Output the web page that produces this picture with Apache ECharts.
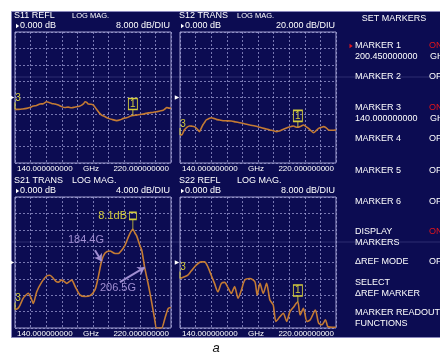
<!DOCTYPE html>
<html>
<head>
<meta charset="utf-8">
<script src="https://cdn.jsdelivr.net/npm/echarts@6/dist/echarts.min.js"></script>
<style>
  html, body { margin: 0; padding: 0; background: #ffffff; }
  #chart { width: 440px; height: 356px; }
</style>
</head>
<body>
<div id="chart"></div>
<script>
// Sweep range (GHz) and marker frequencies
const sweepStart = 140;
const sweepStop = 220;
const marker1Freq = 200.45;
const marker3Freq = 140;

// S11 reflection, dB
const s11Freq = [140, 142, 144, 146, 147.5, 149.4, 151, 152.8, 154.5, 156.2, 157.5, 158.8, 160.5, 162.2, 163.8, 165.6, 167.3, 169, 170.3, 171.6, 173, 174.2, 175.2, 176, 176.8, 177.6, 179, 180.2, 181.9, 183.2, 184.4, 186, 187.9, 190, 192.1, 194, 195.6, 197.5, 199, 200.45, 202.3, 204.1, 206.3, 208.4, 210.5, 212.6, 214.3, 216, 217, 217.8, 219, 220];
const s11Db = [-5.8, -5.8, -5.6, -5.3, -4.9, -4.2, -3.9, -3.2, -3.0, -2.1, -2.4, -2.9, -3.2, -3.7, -4.4, -4.9, -4.7, -5.0, -4.8, -4.5, -4.3, -3.7, -3.0, -2.1, -2.4, -3.2, -3.3, -3.7, -5.9, -7.5, -8.6, -9.3, -10.2, -10.8, -11.3, -10.9, -10.2, -9.8, -9.2, -8.8, -8.6, -8.3, -8.0, -7.5, -7.3, -7.0, -6.6, -6.2, -5.5, -4.9, -5.2, -5.3];

// S12 transmission, dB
const s12Freq = [140, 141, 142.2, 143.5, 144.8, 146, 147.4, 148.8, 150, 150.8, 151.7, 152.6, 153.4, 154.6, 156, 157.3, 158.6, 160.3, 162, 164, 166.3, 168.5, 170.6, 173, 175.8, 178.5, 181, 183.5, 186.1, 187.8, 189.5, 190.8, 192.1, 194, 195.6, 197, 198.1, 199.3, 200.45, 202, 203.3, 204.6, 205.9, 207.2, 208.5, 209.8, 211.1, 212.4, 213.6, 215, 216.2, 218, 220];
const s12Db = [-45.7, -45.5, -39.7, -36.5, -34.8, -35.0, -35.6, -38.5, -41.7, -38.0, -33.6, -30.5, -27.5, -26.0, -24.7, -25.5, -26.7, -27.5, -28.3, -28.5, -28.7, -29.8, -30.8, -32.0, -33.6, -34.8, -36.4, -38.0, -39.7, -40.5, -41.7, -41.0, -39.7, -38.0, -36.4, -35.5, -34.8, -36.0, -36.4, -35.0, -33.6, -35.5, -37.7, -40.5, -42.9, -40.5, -37.7, -36.5, -35.6, -37.0, -39.7, -40.0, -39.7];

// S21 transmission (gain), dB
const s21Freq = [140, 141.5, 142.6, 144, 145.1, 146.8, 148.5, 149.4, 151.1, 153.7, 156.2, 157.9, 159.7, 161, 162.2, 163.9, 165.2, 166.5, 168, 169.1, 170.8, 173.3, 175.9, 178.5, 181, 182.5, 184.4, 186.2, 188.7, 191.3, 193, 194.7, 196.4, 198.1, 199.3, 200.45, 201.5, 202.4, 204, 205, 206.5, 208.4, 210, 211.5, 212.6, 214, 215.2, 216.9, 218.6, 220];
const s21Db = [-11.5, -11.2, -10.4, -8.9, -8.2, -7.5, -9.0, -10.0, -7.2, -4.8, -3.3, -3.1, -3.9, -4.6, -4.8, -4.3, -4.6, -5.1, -4.6, -4.3, -5.8, -7.9, -8.3, -8.1, -6.7, -4.0, 0.3, 2.3, 2.8, 2.2, 2.2, 3.0, 4.2, 6.2, 7.4, 8.1, 7.2, 6.5, 4.2, 3.0, -1.2, -5.5, -9.5, -13.5, -16, -16, -16, -13.6, -11.2, -11.0];

// S22 reflection, dB
const s22Freq = [140, 142.2, 144, 145.7, 148.3, 150.8, 152.6, 154.3, 156, 157.7, 159.4, 161.2, 162.9, 164.6, 166.3, 168, 169.8, 171.5, 173.2, 175.8, 178.4, 179.6, 181, 182.7, 184.4, 186.1, 187.8, 189.2, 191.3, 193, 194.7, 196.4, 198.5, 199.5, 200.45, 201.6, 203.3, 205.1, 206.8, 209.4, 211.1, 212.8, 214.6, 215.8, 218, 220];
const s22Db = [-7.8, -7.0, -6.2, -4.2, -1.3, 0.3, 0.3, -2.1, -6.2, -10.2, -14.3, -10.2, -9.7, -12.3, -15.1, -11.8, -17.5, -13.4, -8.6, -7.8, -9.4, -15.9, -10.2, -15.1, -10.2, -18.3, -20.7, -28.8, -26.4, -24.8, -28.8, -24.0, -21.5, -20.0, -19.3, -25.6, -22.4, -28.8, -28.0, -23.2, -29.6, -30.4, -28.0, -31.3, -31.6, -31.6];

// Panel headings and scale (dB per division)
const panelNames = ['S11 REFL', 'S12 TRANS', 'S21 TRANS', 'S22 REFL'];
const panelFormat = 'LOG MAG.';
const refLevels = [0, 0, 0, 0];
const dbPerDiv = [8, 20, 4, 8];
const traceFreqs = [s11Freq, s12Freq, s21Freq, s22Freq];
const traceDbs = [s11Db, s12Db, s21Db, s22Db];

// Band-edge annotations on S21 (GHz)
const bandEdges = [184.4, 206.5];

// Softkey menu
const menuTitle = 'SET MARKERS';
const menuItems = [
  { lines: ['MARKER 1', marker1Freq.toFixed(9)], state: 'ON', unit: 'GHz', selected: true },
  { lines: ['MARKER 2'], state: 'OFF' },
  { lines: ['MARKER 3', marker3Freq.toFixed(9)], state: 'ON', unit: 'GHz' },
  { lines: ['MARKER 4'], state: 'OFF' },
  { lines: ['MARKER 5'], state: 'OFF' },
  { lines: ['MARKER 6'], state: 'OFF' },
  { lines: ['DISPLAY', 'MARKERS'], state: 'ON' },
  { lines: ['\u0394REF MODE'], state: 'OFF' },
  { lines: ['SELECT', '\u0394REF MARKER'] },
  { lines: ['MARKER READOUT', 'FUNCTIONS'] }
];
const figureTag = 'a';

// ---- styling / layout ----
const NAVY = '#0c0c52';
const TRACE = '#c47b34';
const MARK = '#d4cc3c';
const LAV = '#a08ed2';
const RED = '#e4141a';
const FONT = '"Liberation Sans", Arial, Helvetica, sans-serif';
const gridPos = [
  { left: 15, top: 32 }, { left: 180, top: 32 },
  { left: 15, top: 197 }, { left: 180, top: 197 }
];
const GW = 156, GH = 131;
const menuY = [46, 77, 108, 139, 171, 202, 232, 262, 283, 313];
const menuLineGap = 11;

const chart = echarts.init(document.getElementById('chart'), null, { renderer: 'canvas', width: 440, height: 356 });

function txt(x, y, s, o) {
  o = o || {};
  const align = o.align || 'left';
  return {
    type: 'text', x: x, y: y, z: 50, silent: true,
    style: {
      text: s, fill: o.fill || '#ffffff',
      font: (o.italic ? 'italic ' : '') + (o.size || 9) + 'px ' + FONT,
      align: align, textAlign: align, verticalAlign: 'middle', textVerticalAlign: 'middle'
    }
  };
}
function tri(x, y, color) {
  return { type: 'polygon', z: 50, silent: true, shape: { points: [[x, y - 2.2], [x + 3.2, y], [x, y + 2.2]] }, style: { fill: color } };
}

const graphic = [
  { type: 'rect', z: -1, silent: true, shape: { x: 11.5, y: 11.5, width: 440, height: 326 }, style: { fill: NAVY, stroke: '#8a88bc', lineWidth: 1 } },
  { type: 'line', z: 1, silent: true, shape: { x1: 12, y1: 77, x2: 440, y2: 77 }, style: { stroke: 'rgba(170,170,220,0.22)', lineWidth: 1 } },
  { type: 'line', z: 1, silent: true, shape: { x1: 12, y1: 242, x2: 440, y2: 242 }, style: { stroke: 'rgba(170,170,220,0.22)', lineWidth: 1 } }
];

// Panel texts
panelNames.forEach(function (name, i) {
  const g = gridPos[i];
  const top = i < 2;
  graphic.push(txt(g.left - 1, g.top - 16, name, { size: 9 }));
  graphic.push(txt(g.left + 57, g.top - 16.5, panelFormat, { size: top ? 7.5 : 9 }));
  graphic.push(tri(g.left + 1, g.top - 6, '#ffffff'));
  graphic.push(txt(g.left + 5, g.top - 6, refLevels[i].toFixed(3) + ' dB', { size: 9 }));
  graphic.push(txt(g.left + 155, g.top - 6, dbPerDiv[i].toFixed(3) + ' dB/DIU', { size: 9, align: 'right' }));
  const by = g.top + GH + 5.5;
  graphic.push(txt(g.left + 2, by, sweepStart.toFixed(9), { size: 8 }));
  graphic.push(txt(g.left + 68, by, 'GHz', { size: 8 }));
  graphic.push(txt(g.left + 154, by, sweepStop.toFixed(9), { size: 8, align: 'right' }));
});

// Menu texts
graphic.push(txt(394, 19, menuTitle, { size: 9, align: 'center' }));
menuItems.forEach(function (m, k) {
  const y = menuY[k];
  m.lines.forEach(function (l, j) {
    graphic.push(txt(355, y + j * menuLineGap, l, { size: 9 }));
  });
  if (m.state) graphic.push(txt(429, y, m.state, { size: 9, fill: m.state === 'ON' ? RED : '#ffffff' }));
  if (m.unit) graphic.push(txt(430, y + menuLineGap, m.unit, { size: 9 }));
  if (m.selected) graphic.push(tri(349.5, y, RED));
});
graphic.push(txt(216, 348, figureTag, { size: 13, italic: true, fill: '#111111', align: 'center' }));

function valueAt(freqs, dbs, f) {
  const k = freqs.indexOf(f);
  return dbs[k];
}

const boxPath = 'path://M0,0 L9,0 L9,11 L0,11 Z M4.5,11 L4.5,17';
const peakPath = 'path://M0,0 L7,0 L7,7 L0,7 Z M3.5,7 L3.5,17';

const series = traceFreqs.map(function (freqs, i) {
  const dbs = traceDbs[i];
  const m1 = valueAt(freqs, dbs, marker1Freq);
  const m3 = valueAt(freqs, dbs, marker3Freq);
  const points = [
    // reference-level pointer
    { coord: [sweepStart, refLevels[i]], symbol: 'triangle', symbolRotate: -90, symbolSize: [4.5, 4.5], symbolOffset: [-3, 0], itemStyle: { color: '#ffffff' }, label: { show: false } },
    // marker 3
    { coord: [marker3Freq, m3], symbol: 'rect', symbolSize: [1, 7], symbolOffset: [0, -3.5], itemStyle: { color: MARK },
      label: { show: true, formatter: '3', position: 'top', distance: 0, offset: [3, 1], color: MARK, fontSize: 10, fontFamily: FONT } }
  ];
  let markLine;
  if (i === 2) {
    points.push({ coord: [marker1Freq, m1], symbol: peakPath, symbolSize: [7, 17], symbolOffset: [0, -8.5],
      itemStyle: { color: 'rgba(0,0,0,0)', borderColor: MARK, borderWidth: 1.2 },
      label: { show: true, formatter: m1.toFixed(1) + 'dB', position: 'left', distance: 2, offset: [0, -5], color: MARK, fontSize: 11, fontFamily: FONT } });
    const labelAt = [[176.4, 5.4], [192.8, -6.3]];
    const arrowFrom = [[181.0, 3.0], [193.8, -4.8]];
    bandEdges.forEach(function (f, k) {
      points.push({ coord: labelAt[k], symbol: 'circle', symbolSize: 1, itemStyle: { color: 'rgba(0,0,0,0)' },
        label: { show: true, formatter: f.toFixed(1) + 'G', position: 'inside', color: LAV, fontSize: 11, fontFamily: FONT } });
    });
    markLine = {
      silent: true, animation: false, symbol: ['none', 'arrow'], symbolSize: 7,
      lineStyle: { color: LAV, width: 2, type: 'solid' }, label: { show: false },
      data: bandEdges.map(function (f, k) {
        return [{ coord: arrowFrom[k] }, { coord: [f, valueAt(freqs, dbs, f)] }];
      })
    };
  } else {
    points.push({ coord: [marker1Freq, m1], symbol: boxPath, symbolSize: [9, 17], symbolOffset: [0, -8.5],
      itemStyle: { color: 'rgba(0,0,0,0)', borderColor: MARK, borderWidth: 1.2 },
      label: { show: true, formatter: '1', position: 'inside', offset: [0, -3], color: MARK, fontSize: 10, fontFamily: FONT } });
  }
  return {
    type: 'line', xAxisIndex: i, yAxisIndex: i,
    data: freqs.map(function (f, k) { return [f, dbs[k]]; }),
    showSymbol: false, smooth: 0.25, clip: true,
    lineStyle: { color: TRACE, width: 1.6 },
    markPoint: { silent: true, animation: false, data: points },
    markLine: markLine
  };
});

const gridLine = { show: true, lineStyle: { color: 'rgba(165,165,220,0.7)', type: [2, 2], width: 1 } };

const option = {
  animation: false,
  backgroundColor: '#ffffff',
  grid: gridPos.map(function (g) {
    return { left: g.left, top: g.top, width: GW, height: GH, show: true, borderColor: '#a09ece', borderWidth: 1, backgroundColor: 'rgba(0,0,0,0)' };
  }),
  xAxis: gridPos.map(function (g, i) {
    return { gridIndex: i, type: 'value', min: sweepStart, max: sweepStop, interval: 8,
      axisLine: { show: false }, axisTick: { show: false }, axisLabel: { show: false }, splitLine: gridLine };
  }),
  yAxis: gridPos.map(function (g, i) {
    return { gridIndex: i, type: 'value', min: refLevels[i] - 4 * dbPerDiv[i], max: refLevels[i] + 4 * dbPerDiv[i], interval: dbPerDiv[i],
      axisLine: { show: false }, axisTick: { show: false }, axisLabel: { show: false }, splitLine: gridLine };
  }),
  series: series,
  graphic: graphic
};

chart.setOption(option);
</script>
</body>
</html>
